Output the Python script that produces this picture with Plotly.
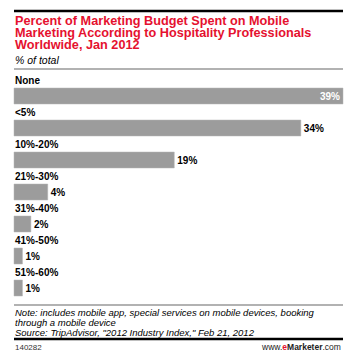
import plotly.graph_objects as go

categories = ["None", "<5%", "10%-20%", "21%-30%", "31%-40%", "41%-50%", "51%-60%"]
values = [39, 34, 19, 4, 2, 1, 1]
value_labels = ["39%", "34%", "19%", "4%", "2%", "1%", "1%"]

title_lines = ["Percent of Marketing Budget Spent on Mobile",
               "Marketing According to Hospitality Professionals",
               "Worldwide, Jan 2012"]
subtitle = "% of total"
note_lines = ["Note: includes mobile app, special services on mobile devices, booking",
              "through a mobile device",
              "Source: TripAdvisor, \"2012 Industry Index,\" Feb 21, 2012"]
chart_id = "140282"

W, H = 360, 357
L, R = 14, 343          # left/right edge of the bar area (px)
FIRST_BAR = 96          # centre of the first bar (px)
PITCH = 32              # px per category
XMAX = 39
FONT = "Liberation Sans, Arial, sans-serif"

def px(x):
    return x / W

def py(y):
    return 1 - y / H

# axis ranges so that the full-figure plot area maps the bar area correctly
k = (R - L) / XMAX
x_range = [-L / k, XMAX + (W - R) / k]
y_range = [(H - FIRST_BAR) / PITCH, -FIRST_BAR / PITCH]

ypos = list(range(len(categories)))

fig = go.Figure()
fig.add_trace(go.Bar(
    x=values, y=ypos, orientation="h", width=0.5,
    marker=dict(color="#9c9c9c", line=dict(color="#b5b5b5", width=0.5)),
    text=[f"<b>{t}</b>" for t in value_labels],
    textposition=["inside"] + ["outside"] * (len(values) - 1),
    insidetextanchor="end",
    constraintext="none",
    textfont=dict(family=FONT, size=10),
    insidetextfont=dict(color="white", family=FONT, size=10),
    outsidetextfont=dict(color="black", family=FONT, size=10),
    cliponaxis=False,
    hoverinfo="skip",
))

# decorative horizontal rules on a pixel-space overlay axis pair
rules = [(11, "black", 2.5), (69, "#999999", 1.5), (305, "#999999", 1.5), (339, "black", 2.5)]
for yv, col, wd in rules:
    fig.add_trace(go.Scatter(
        x=[L, R], y=[yv, yv], mode="lines", xaxis="x2", yaxis="y2",
        line=dict(color=col, width=wd), hoverinfo="skip",
    ))

annotations = []
for i, c in enumerate(categories):
    annotations.append(dict(
        x=0, xref="x", y=i - 0.47, yref="y", text=f"<b>{c}</b>",
        showarrow=False, xanchor="left", yanchor="middle",
        font=dict(family=FONT, size=10, color="black"), xshift=-1,
    ))

for j, line in enumerate(title_lines):
    annotations.append(dict(
        x=px(L), xref="paper", y=py(20.5 + j * 12.4), yref="paper", text=f"<b>{line}</b>",
        showarrow=False, xanchor="left", yanchor="middle",
        font=dict(family=FONT, size=12.7, color="#e5112f"), xshift=-1,
    ))

annotations.append(dict(
    x=px(L), xref="paper", y=py(60), yref="paper", text=f"<i>{subtitle}</i>",
    showarrow=False, xanchor="left", yanchor="middle",
    font=dict(family=FONT, size=10.5, color="black"), xshift=-1,
))

for j, line in enumerate(note_lines):
    annotations.append(dict(
        x=px(L), xref="paper", y=py(312 + j * 10), yref="paper", text=f"<i>{line}</i>",
        showarrow=False, xanchor="left", yanchor="middle",
        font=dict(family=FONT, size=9.5, color="black"), xshift=-1,
    ))

annotations.append(dict(
    x=px(L), xref="paper", y=py(347), yref="paper", text=chart_id,
    showarrow=False, xanchor="left", yanchor="middle",
    font=dict(family=FONT, size=8, color="#333333"), xshift=-1,
))
annotations.append(dict(
    x=px(R), xref="paper", y=py(347), yref="paper",
    text="www.<b><span style='color:#e5112f'>e</span>Marketer</b>.com",
    showarrow=False, xanchor="right", yanchor="middle",
    font=dict(family=FONT, size=8.5, color="#222222"),
))

fig.update_layout(
    width=W, height=H,
    margin=dict(l=0, r=0, t=0, b=0, pad=0),
    paper_bgcolor="white", plot_bgcolor="rgba(0,0,0,0)",
    showlegend=False,
    xaxis=dict(range=x_range, visible=False, fixedrange=True, domain=[0, 1]),
    yaxis=dict(range=y_range, visible=False, fixedrange=True, domain=[0, 1]),
    xaxis2=dict(range=[0, W], visible=False, fixedrange=True, domain=[0, 1], anchor="y2"),
    yaxis2=dict(range=[H, 0], visible=False, fixedrange=True, domain=[0, 1], anchor="x2",
                overlaying="y"),
    annotations=annotations,
    font=dict(family=FONT),
)

fig.write_html("out.html", config={"displayModeBar": False},
               post_script="document.body.style.margin='0';document.body.style.overflow='hidden';")
